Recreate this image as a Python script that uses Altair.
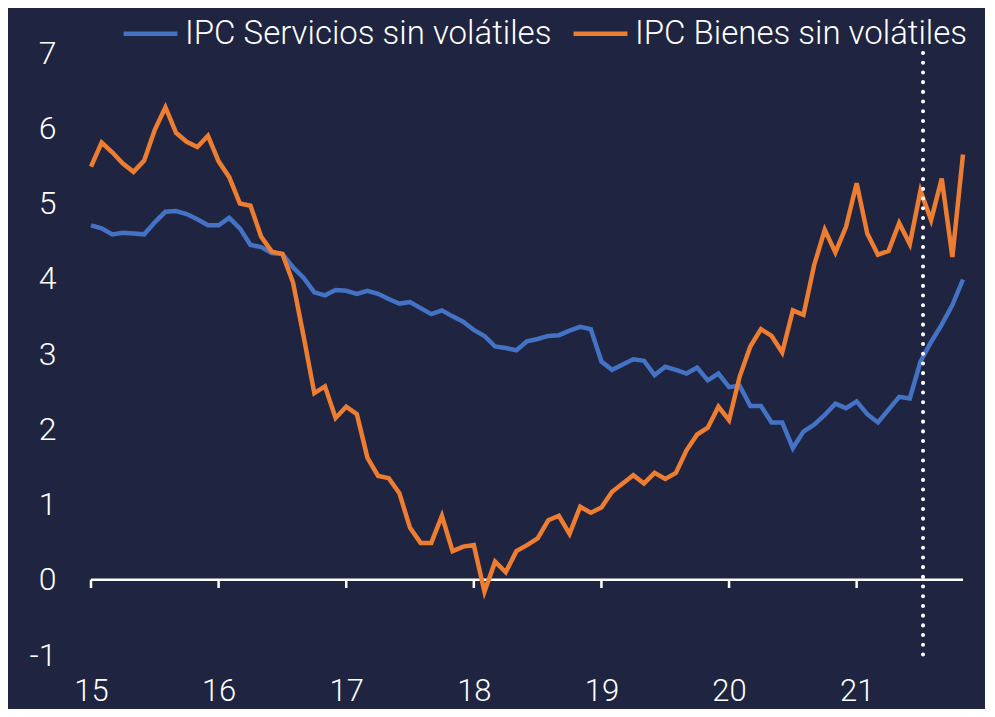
import altair as alt
import pandas as pd

# Monthly data, Jan 2015 (index 0) to Nov 2021
servicios = [4.71, 4.67, 4.59, 4.61, 4.60, 4.59, 4.75, 4.89, 4.90, 4.86, 4.79, 4.71,
             4.71, 4.81, 4.67, 4.45, 4.42, 4.34, 4.33, 4.15, 4.01, 3.82, 3.78, 3.85,
             3.84, 3.80, 3.84, 3.80, 3.73, 3.67, 3.69, 3.61, 3.53, 3.58, 3.50, 3.43,
             3.32, 3.24, 3.10, 3.08, 3.05, 3.17, 3.20, 3.24, 3.25, 3.31, 3.36, 3.33,
             2.90, 2.79, 2.86, 2.93, 2.91, 2.72, 2.83, 2.79, 2.74, 2.82, 2.65, 2.74,
             2.56, 2.58, 2.31, 2.31, 2.09, 2.09, 1.75, 1.97, 2.06, 2.19, 2.34, 2.28,
             2.37, 2.20, 2.09, 2.26, 2.43, 2.41, 2.90, 3.16, 3.39, 3.65, 3.99]
bienes = [5.49, 5.81, 5.68, 5.53, 5.42, 5.57, 5.98, 6.28, 5.94, 5.82, 5.75, 5.90,
          5.56, 5.35, 5.00, 4.97, 4.56, 4.36, 4.33, 3.95, 3.23, 2.48, 2.57, 2.15,
          2.30, 2.20, 1.62, 1.38, 1.35, 1.15, 0.69, 0.49, 0.49, 0.85, 0.38, 0.44,
          0.46, -0.16, 0.24, 0.10, 0.38, 0.46, 0.55, 0.79, 0.85, 0.61, 0.97, 0.89,
          0.96, 1.17, 1.28, 1.39, 1.28, 1.42, 1.34, 1.42, 1.72, 1.93, 2.02, 2.30,
          2.12, 2.70, 3.10, 3.33, 3.24, 3.02, 3.58, 3.52, 4.18, 4.65, 4.35, 4.69,
          5.27, 4.60, 4.32, 4.37, 4.74, 4.46, 5.17, 4.78, 5.33, 4.29, 5.65]
series_names = ["IPC Servicios sin volátiles", "IPC Bienes sin volátiles"]
series_colors = ["#4472C4", "#ED7D31"]
year_ticks = [15, 16, 17, 18, 19, 20, 21]
y_ticks = [-1, 0, 1, 2, 3, 4, 5, 6, 7]
start_year = 15
marker_x = 21.52  # vertical dotted line

n = len(servicios)
x_end = start_year + (n - 1) / 12

rows = []
for name, vals in zip(series_names, [servicios, bienes]):
    for i, v in enumerate(vals):
        rows.append({"t": start_year + i / 12, "v": v, "serie": name})
df = pd.DataFrame(rows)

FONT = "Roboto"
BG = "#1f2440"

xscale = alt.Scale(domain=[start_year, x_end], nice=False, zero=False)
yscale = alt.Scale(domain=[-1, 7], nice=False, zero=False)

lines = alt.Chart(df).mark_line(strokeWidth=4.5).encode(
    x=alt.X("t:Q", scale=xscale,
            axis=alt.Axis(values=year_ticks, format="d", title=None, domain=False,
                          ticks=False, grid=False, labelPadding=21, labelFlush=False,
                          labelFontSize=31, labelColor="white", labelFont=FONT,
                          labelFontWeight=300)),
    y=alt.Y("v:Q", scale=yscale,
            axis=alt.Axis(values=y_ticks, labelExpr="toString(datum.value)",
                          title=None, domain=False, ticks=False,
                          grid=False, labelPadding=35, labelFlush=False,
                          labelFontSize=32, labelColor="white", labelFont=FONT,
                          labelFontWeight=300)),
    color=alt.Color("serie:N", sort=series_names,
                    scale=alt.Scale(domain=series_names, range=series_colors),
                    legend=alt.Legend(title=None, orient="none", legendX=30, legendY=-49,
                                      direction="horizontal", symbolType="stroke",
                                      symbolStrokeWidth=4.5, symbolSize=2900,
                                      labelFontSize=33, labelColor="white",
                                      labelFont=FONT, labelFontWeight=300,
                                      labelLimit=0, labelOffset=5, columnPadding=12)),
)

baseline_df = pd.DataFrame({"x": [start_year], "x2": [x_end], "y": [0]})
baseline = alt.Chart(baseline_df).mark_rule(color="white", strokeWidth=2.5).encode(
    x=alt.X("x:Q", scale=xscale), x2="x2:Q", y=alt.Y("y:Q", scale=yscale)
)

ticks_df = pd.DataFrame({"x": year_ticks, "y": [0] * len(year_ticks), "y2": [-0.11] * len(year_ticks)})
ticks = alt.Chart(ticks_df).mark_rule(color="white", strokeWidth=2.5).encode(
    x=alt.X("x:Q", scale=xscale), y=alt.Y("y:Q", scale=yscale), y2="y2:Q"
)

marker_df = pd.DataFrame({"x": [marker_x], "y": [7.0], "y2": [-1.0]})
marker = alt.Chart(marker_df).mark_rule(color="white", strokeWidth=4,
                                        strokeDash=[0.1, 9.6], strokeCap="round").encode(
    x=alt.X("x:Q", scale=xscale), y=alt.Y("y:Q", scale=yscale), y2="y2:Q"
)

chart = alt.layer(baseline, ticks, lines, marker).properties(
    width=872, height=602,
    autosize=alt.AutoSizeParams(type="none"),
    padding={"left": 83, "top": 45, "right": 22, "bottom": 54},
    background=BG,
).configure_view(stroke=None)

chart.save("out.html", embed_options={"renderer": "svg", "actions": False})
